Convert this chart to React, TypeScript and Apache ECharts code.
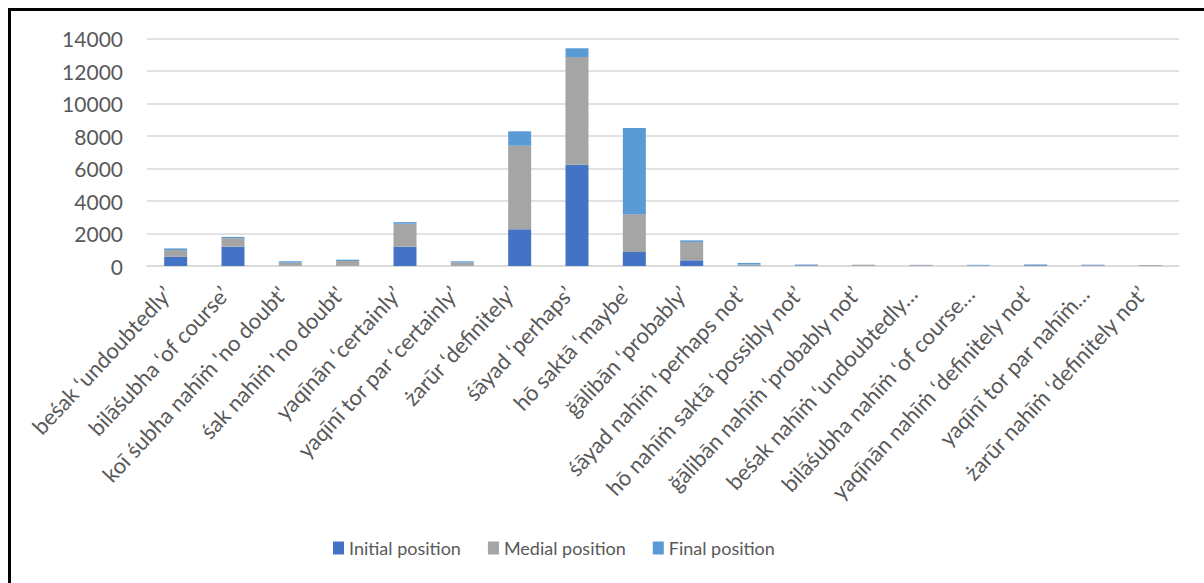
import React, { useEffect, useRef } from "react";
import * as echarts from "echarts";

const categories: string[] = [
  "beśak ‘undoubtedly’",
  "bilāśubha ‘of course’",
  "koī śubha nahīṁ 'no doubt'",
  "śak nahīṁ 'no doubt'",
  "yaqīnān ‘certainly’",
  "yaqīnī tor par ‘certainly’",
  "żarūr ‘definitely’",
  "śāyad ‘perhaps’",
  "hō saktā ‘maybe’",
  "ğālibān ‘probably’",
  "śāyad nahīṁ ‘perhaps not’",
  "hō nahīṁ saktā ‘possibly not’",
  "ğālibān nahīṁ ‘probably not’",
  "beśak nahīṁ ‘undoubtedly…",
  "bilāśubha nahīṁ ‘of course…",
  "yaqīnān nahīṁ ‘definitely not’",
  "yaqīnī tor par nahīṁ…",
  "żarūr nahīṁ ‘definitely not’",
];

const initialPosition: number[] = [560, 1190, 20, 20, 1190, 20, 2260, 6230, 860, 350, 30, 40, 10, 10, 10, 40, 30, 5];
const medialPosition: number[] = [420, 520, 180, 290, 1410, 190, 5140, 6630, 2330, 1130, 60, 20, 60, 50, 20, 20, 30, 50];
const finalPosition: number[] = [100, 80, 90, 80, 100, 80, 890, 540, 5310, 100, 100, 30, 10, 10, 40, 30, 20, 5];

const yTicks = { min: 0, max: 14000, interval: 2000 };

const FONT = "Lato";

export default function App() {
  const ref = useRef<HTMLDivElement>(null);
  useEffect(() => {
    if (!ref.current) return;
    const chart = echarts.init(ref.current, undefined, { renderer: "svg" });
    const barW = 23;
    chart.setOption({
      animation: false,
      backgroundColor: "#ffffff",
      grid: { left: 136, right: 25, top: 27.5, bottom: 317, containLabel: false },
      legend: {
        left: 317,
        top: 523,
        itemWidth: 11,
        itemHeight: 13,
        itemGap: 27,
        icon: "rect",
        textStyle: { fontFamily: FONT, fontSize: 18, color: "#595959" },
        data: ["Initial position", "Medial position", "Final position"],
      },
      xAxis: {
        type: "category",
        data: categories,
        axisLine: { show: true, lineStyle: { color: "#d9d9d9", width: 1.5 } },
        axisTick: { show: false },
        axisLabel: {
          interval: 0,
          rotate: 47,
          margin: 15,
          padding: [0, 12, 0, 0],
          fontFamily: FONT,
          fontSize: 22,
          color: "#595959",
        },
      },
      yAxis: {
        type: "value",
        min: yTicks.min,
        max: yTicks.max,
        interval: yTicks.interval,
        axisLine: { show: false },
        axisTick: { show: false },
        splitLine: { lineStyle: { color: "#d9d9d9", width: 1.5 } },
        axisLabel: {
          margin: 24,
          fontFamily: FONT,
          fontSize: 21,
          color: "#595959",
          formatter: (v: number) => String(v),
        },
      },
      series: [
        { name: "Initial position", type: "bar", stack: "s", barWidth: barW, data: initialPosition, itemStyle: { color: "#4472C4" } },
        { name: "Medial position", type: "bar", stack: "s", barWidth: barW, data: medialPosition, itemStyle: { color: "#A5A5A5" } },
        { name: "Final position", type: "bar", stack: "s", barWidth: barW, data: finalPosition, itemStyle: { color: "#5B9BD5" } },
      ],
    });
    return () => chart.dispose();
  }, []);
  return (
    <div
      style={{
        position: "fixed",
        left: 8,
        top: 8,
        width: 1220,
        height: 600,
        border: "3px solid #000",
        background: "#fff",
        overflow: "hidden",
      }}
    >
      <div ref={ref} style={{ width: 1193, height: 572 }} />
    </div>
  );
}
